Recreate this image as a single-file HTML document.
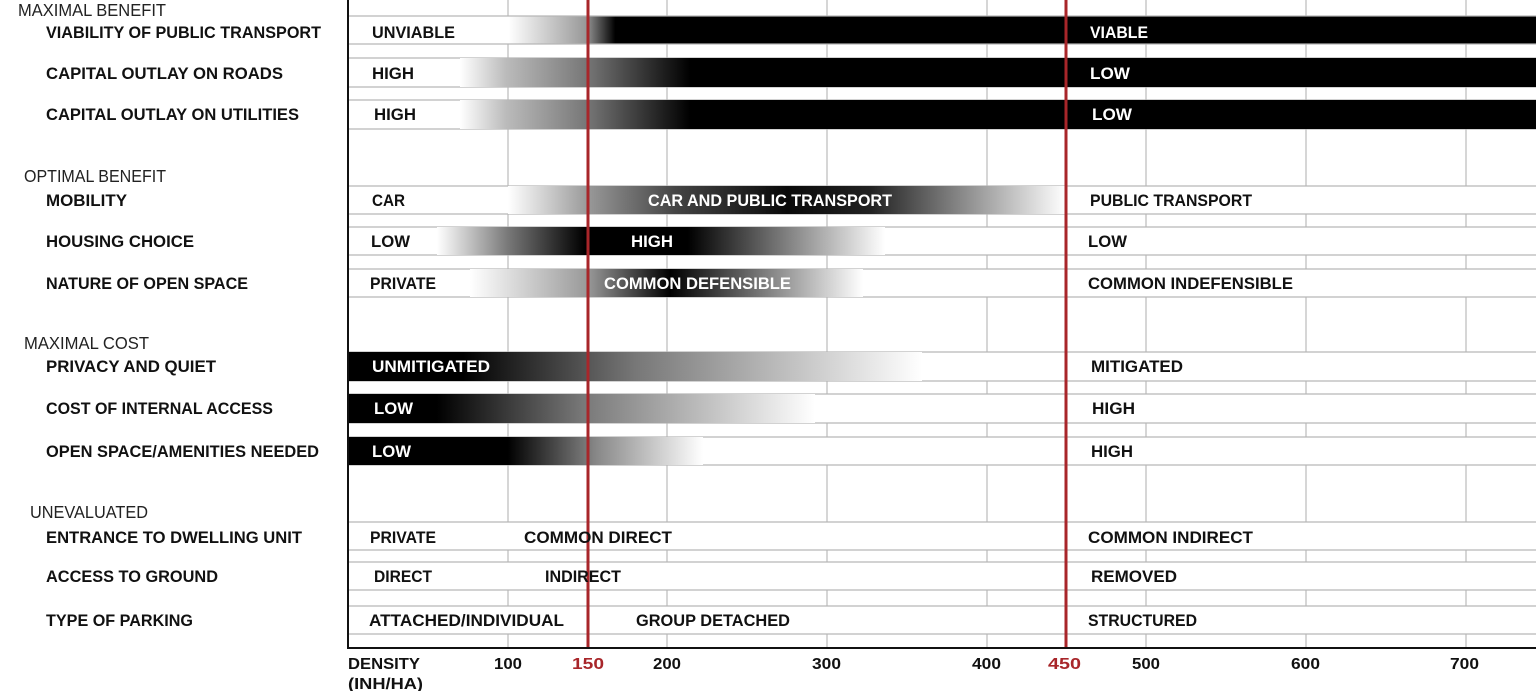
<!DOCTYPE html>
<html><head><meta charset="utf-8"><style>
html,body{margin:0;padding:0;background:#fff;}
svg{display:block;}
text{font-family:"Liberation Sans",sans-serif;}
.l{font-weight:bold;font-size:16.5px;fill:#111;}
.w{fill:#fff;}
.h{font-size:17.5px;fill:#222;}
.a{font-weight:bold;font-size:16px;fill:#111;}
.r{fill:#a8262a;}
</style></head><body>
<svg width="1536" height="691" viewBox="0 0 1536 691" xmlns="http://www.w3.org/2000/svg">
<defs>
<linearGradient id="g1" gradientUnits="userSpaceOnUse" x1="348" x2="1536"><stop offset="0" stop-color="#fff"/><stop offset="0.135" stop-color="#fff"/><stop offset="0.2" stop-color="#999"/><stop offset="0.225" stop-color="#000"/><stop offset="1" stop-color="#000"/></linearGradient>
<linearGradient id="g2" gradientUnits="userSpaceOnUse" x1="460" x2="690"><stop offset="0" stop-color="#fff"/><stop offset="0.2" stop-color="#bbb"/><stop offset="0.55" stop-color="#777"/><stop offset="1" stop-color="#000"/></linearGradient>
<linearGradient id="g3" gradientUnits="userSpaceOnUse" x1="508" x2="1066"><stop offset="0" stop-color="#fff"/><stop offset="0.143" stop-color="#999"/><stop offset="0.3" stop-color="#444"/><stop offset="0.5" stop-color="#0a0a0a"/><stop offset="0.65" stop-color="#222"/><stop offset="1" stop-color="#fff"/></linearGradient>
<linearGradient id="g4" gradientUnits="userSpaceOnUse" x1="437" x2="885"><stop offset="0" stop-color="#fff"/><stop offset="0.16" stop-color="#777"/><stop offset="0.33" stop-color="#000"/><stop offset="0.56" stop-color="#000"/><stop offset="1" stop-color="#fff"/></linearGradient>
<linearGradient id="g5" gradientUnits="userSpaceOnUse" x1="470" x2="863"><stop offset="0" stop-color="#fff"/><stop offset="0.3" stop-color="#999"/><stop offset="0.51" stop-color="#000"/><stop offset="1" stop-color="#fff"/></linearGradient>
<linearGradient id="g6" gradientUnits="userSpaceOnUse" x1="348" x2="922"><stop offset="0" stop-color="#000"/><stop offset="0.2" stop-color="#000"/><stop offset="0.5" stop-color="#777"/><stop offset="1" stop-color="#fff"/></linearGradient>
<linearGradient id="g7" gradientUnits="userSpaceOnUse" x1="348" x2="815"><stop offset="0" stop-color="#000"/><stop offset="0.19" stop-color="#000"/><stop offset="0.5" stop-color="#777"/><stop offset="1" stop-color="#fff"/></linearGradient>
<linearGradient id="g8" gradientUnits="userSpaceOnUse" x1="348" x2="703"><stop offset="0" stop-color="#000"/><stop offset="0.45" stop-color="#000"/><stop offset="0.7" stop-color="#888"/><stop offset="1" stop-color="#fff"/></linearGradient>
</defs>
<g stroke="#c8c8c8" stroke-width="1.5">
<line x1="508" y1="0" x2="508" y2="648"/><line x1="667" y1="0" x2="667" y2="648"/><line x1="827" y1="0" x2="827" y2="648"/><line x1="987" y1="0" x2="987" y2="648"/><line x1="1146" y1="0" x2="1146" y2="648"/><line x1="1306" y1="0" x2="1306" y2="648"/><line x1="1466" y1="0" x2="1466" y2="648"/>
</g>
<g stroke="#b5b5b5" stroke-width="1.2">
<rect x="348" y="16" width="1190" height="28" fill="url(#g1)"/>
<rect x="348" y="58" width="1190" height="29" fill="#fff"/>
<rect x="460" y="58" width="1078" height="29" fill="url(#g2)" stroke="none"/>
<rect x="690" y="58" width="848" height="29" fill="#000" stroke="none"/>
<rect x="348" y="100" width="1190" height="29" fill="#fff"/>
<rect x="460" y="100" width="1078" height="29" fill="url(#g2)" stroke="none"/>
<rect x="690" y="100" width="848" height="29" fill="#000" stroke="none"/>
<rect x="348" y="186" width="1190" height="28" fill="#fff"/>
<rect x="508" y="186" width="558" height="28" fill="url(#g3)" stroke="none"/>
<rect x="348" y="227" width="1190" height="28" fill="#fff"/>
<rect x="437" y="227" width="448" height="28" fill="url(#g4)" stroke="none"/>
<rect x="348" y="269" width="1190" height="28" fill="#fff"/>
<rect x="470" y="269" width="393" height="28" fill="url(#g5)" stroke="none"/>
<rect x="348" y="352" width="1190" height="29" fill="#fff"/>
<rect x="348" y="352" width="574" height="29" fill="url(#g6)" stroke="none"/>
<rect x="348" y="394" width="1190" height="29" fill="#fff"/>
<rect x="348" y="394" width="467" height="29" fill="url(#g7)" stroke="none"/>
<rect x="348" y="437" width="1190" height="28" fill="#fff"/>
<rect x="348" y="437" width="355" height="28" fill="url(#g8)" stroke="none"/>
<rect x="348" y="522" width="1190" height="28" fill="#fff"/>
<rect x="348" y="562" width="1190" height="28" fill="#fff"/>
<rect x="348" y="606" width="1190" height="28" fill="#fff"/>
</g>
<rect x="586.5" y="0" width="3" height="648" class="r"/>
<rect x="1064.5" y="0" width="3" height="648" class="r"/>
<line x1="348" y1="0" x2="348" y2="649" stroke="#111" stroke-width="2"/>
<line x1="347" y1="648" x2="1536" y2="648" stroke="#111" stroke-width="2"/>
<g lengthAdjust="spacingAndGlyphs">
<text class="h" x="18" y="16" textLength="148" lengthAdjust="spacingAndGlyphs">MAXIMAL BENEFIT</text>
<text class="h" x="24" y="182" textLength="142" lengthAdjust="spacingAndGlyphs">OPTIMAL BENEFIT</text>
<text class="h" x="24" y="349" textLength="125" lengthAdjust="spacingAndGlyphs">MAXIMAL COST</text>
<text class="h" x="30" y="518" textLength="118" lengthAdjust="spacingAndGlyphs">UNEVALUATED</text>
<text class="l" x="46" y="38" textLength="275" lengthAdjust="spacingAndGlyphs">VIABILITY OF PUBLIC TRANSPORT</text>
<text class="l" x="46" y="79" textLength="237" lengthAdjust="spacingAndGlyphs">CAPITAL OUTLAY ON ROADS</text>
<text class="l" x="46" y="120" textLength="253" lengthAdjust="spacingAndGlyphs">CAPITAL OUTLAY ON UTILITIES</text>
<text class="l" x="46" y="206" textLength="81" lengthAdjust="spacingAndGlyphs">MOBILITY</text>
<text class="l" x="46" y="247" textLength="148" lengthAdjust="spacingAndGlyphs">HOUSING CHOICE</text>
<text class="l" x="46" y="289" textLength="202" lengthAdjust="spacingAndGlyphs">NATURE OF OPEN SPACE</text>
<text class="l" x="46" y="372" textLength="170" lengthAdjust="spacingAndGlyphs">PRIVACY AND QUIET</text>
<text class="l" x="46" y="414" textLength="227" lengthAdjust="spacingAndGlyphs">COST OF INTERNAL ACCESS</text>
<text class="l" x="46" y="457" textLength="273" lengthAdjust="spacingAndGlyphs">OPEN SPACE/AMENITIES NEEDED</text>
<text class="l" x="46" y="543" textLength="256" lengthAdjust="spacingAndGlyphs">ENTRANCE TO DWELLING UNIT</text>
<text class="l" x="46" y="582" textLength="172" lengthAdjust="spacingAndGlyphs">ACCESS TO GROUND</text>
<text class="l" x="46" y="626" textLength="147" lengthAdjust="spacingAndGlyphs">TYPE OF PARKING</text>
<text class="l" x="372" y="38" textLength="83" lengthAdjust="spacingAndGlyphs">UNVIABLE</text>
<text class="l w" x="1090" y="38" textLength="58" lengthAdjust="spacingAndGlyphs">VIABLE</text>
<text class="l" x="372" y="79" textLength="42" lengthAdjust="spacingAndGlyphs">HIGH</text>
<text class="l w" x="1090" y="79" textLength="40" lengthAdjust="spacingAndGlyphs">LOW</text>
<text class="l" x="374" y="120" textLength="42" lengthAdjust="spacingAndGlyphs">HIGH</text>
<text class="l w" x="1092" y="120" textLength="40" lengthAdjust="spacingAndGlyphs">LOW</text>
<text class="l" x="372" y="206" textLength="33" lengthAdjust="spacingAndGlyphs">CAR</text>
<text class="l w" x="648" y="206" textLength="244" lengthAdjust="spacingAndGlyphs">CAR AND PUBLIC TRANSPORT</text>
<text class="l" x="1090" y="206" textLength="162" lengthAdjust="spacingAndGlyphs">PUBLIC TRANSPORT</text>
<text class="l" x="371" y="247" textLength="39" lengthAdjust="spacingAndGlyphs">LOW</text>
<text class="l w" x="631" y="247" textLength="42" lengthAdjust="spacingAndGlyphs">HIGH</text>
<text class="l" x="1088" y="247" textLength="39" lengthAdjust="spacingAndGlyphs">LOW</text>
<text class="l" x="370" y="289" textLength="66" lengthAdjust="spacingAndGlyphs">PRIVATE</text>
<text class="l w" x="604" y="289" textLength="187" lengthAdjust="spacingAndGlyphs">COMMON DEFENSIBLE</text>
<text class="l" x="1088" y="289" textLength="205" lengthAdjust="spacingAndGlyphs">COMMON INDEFENSIBLE</text>
<text class="l w" x="372" y="372" textLength="118" lengthAdjust="spacingAndGlyphs">UNMITIGATED</text>
<text class="l" x="1091" y="372" textLength="92" lengthAdjust="spacingAndGlyphs">MITIGATED</text>
<text class="l w" x="374" y="414" textLength="39" lengthAdjust="spacingAndGlyphs">LOW</text>
<text class="l" x="1092" y="414" textLength="43" lengthAdjust="spacingAndGlyphs">HIGH</text>
<text class="l w" x="372" y="457" textLength="39" lengthAdjust="spacingAndGlyphs">LOW</text>
<text class="l" x="1091" y="457" textLength="42" lengthAdjust="spacingAndGlyphs">HIGH</text>
<text class="l" x="370" y="543" textLength="66" lengthAdjust="spacingAndGlyphs">PRIVATE</text>
<text class="l" x="524" y="543" textLength="148" lengthAdjust="spacingAndGlyphs">COMMON DIRECT</text>
<text class="l" x="1088" y="543" textLength="165" lengthAdjust="spacingAndGlyphs">COMMON INDIRECT</text>
<text class="l" x="374" y="582" textLength="58" lengthAdjust="spacingAndGlyphs">DIRECT</text>
<text class="l" x="545" y="582" textLength="76" lengthAdjust="spacingAndGlyphs">INDIRECT</text>
<text class="l" x="1091" y="582" textLength="86" lengthAdjust="spacingAndGlyphs">REMOVED</text>
<text class="l" x="369" y="626" textLength="195" lengthAdjust="spacingAndGlyphs">ATTACHED/INDIVIDUAL</text>
<text class="l" x="636" y="626" textLength="154" lengthAdjust="spacingAndGlyphs">GROUP DETACHED</text>
<text class="l" x="1088" y="626" textLength="109" lengthAdjust="spacingAndGlyphs">STRUCTURED</text>
<text class="a" x="348" y="669" textLength="72" lengthAdjust="spacingAndGlyphs">DENSITY</text>
<text class="a" x="348" y="689" textLength="75" lengthAdjust="spacingAndGlyphs">(INH/HA)</text>
<text class="a" x="494" y="669" textLength="28" lengthAdjust="spacingAndGlyphs">100</text>
<text class="a r" x="572" y="669" textLength="32" lengthAdjust="spacingAndGlyphs">150</text>
<text class="a" x="653" y="669" textLength="28" lengthAdjust="spacingAndGlyphs">200</text>
<text class="a" x="812" y="669" textLength="29" lengthAdjust="spacingAndGlyphs">300</text>
<text class="a" x="972" y="669" textLength="29" lengthAdjust="spacingAndGlyphs">400</text>
<text class="a r" x="1048" y="669" textLength="33" lengthAdjust="spacingAndGlyphs">450</text>
<text class="a" x="1132" y="669" textLength="28" lengthAdjust="spacingAndGlyphs">500</text>
<text class="a" x="1291" y="669" textLength="29" lengthAdjust="spacingAndGlyphs">600</text>
<text class="a" x="1450" y="669" textLength="29" lengthAdjust="spacingAndGlyphs">700</text>
</g>
</svg>
</body></html>
